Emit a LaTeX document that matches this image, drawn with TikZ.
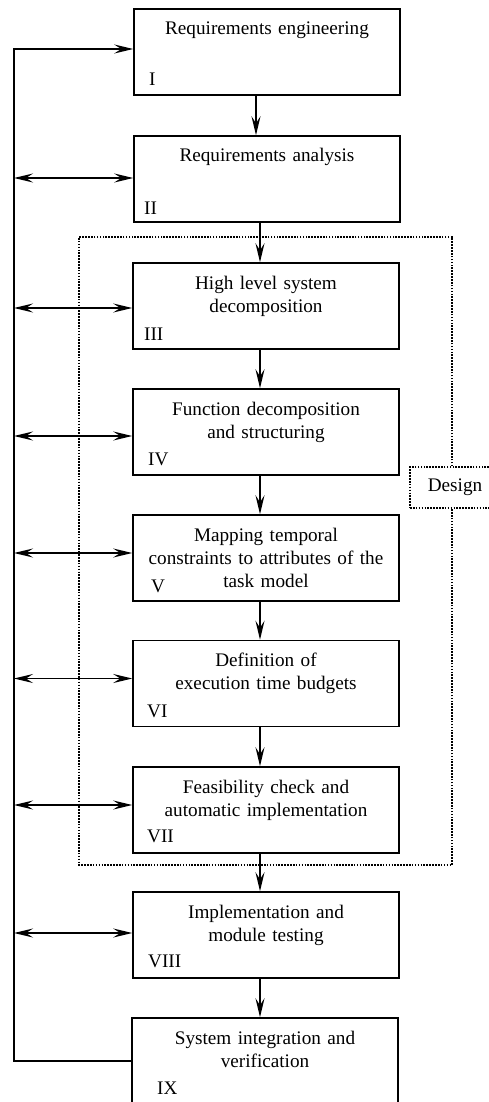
\documentclass[tikz,border=0pt]{standalone}
\usepackage{fontspec}
\setmainfont{Liberation Serif}
\usetikzlibrary{arrows.meta}
\begin{document}
\begin{tikzpicture}[x=1pt,y=-1pt,
  box/.style={draw, line width=1.5pt, minimum width=266pt, minimum height=86pt, inner sep=0pt},
  txt/.style={text width=266pt, align=center, anchor=base, inner sep=0pt, font=\fontsize{19.2pt}{23pt}\selectfont},
  num/.style={anchor=base west, inner sep=0pt, font=\fontsize{19.2pt}{23pt}\selectfont},
  tip/.tip={Stealth[length=19pt,width=9pt,inset=7pt]},
  arr/.style={line width=1.5pt, -tip},
  arrtwo/.style={line width=1.5pt, tip-tip},
  dotline/.style={line width=1.6pt, dash pattern=on 1.6pt off 1.3pt}]
\useasboundingbox (0,0) rectangle (489,1102);
\clip (0,0) rectangle (489,1102);

% boxes
\node[box] (b1) at (267,52) {};
\node[box] (b2) at (267,179) {};
\node[box] (b3) at (266,306) {};
\node[box] (b4) at (266,432) {};
\node[box] (b5) at (266,558) {};
\node[box] (b6) at (266,683.5) {};
\node[box] (b7) at (266,810) {};
\node[box] (b8) at (266,935) {};
\node[box] (b9) at (265,1061) {};

% texts
\node[txt] (t1) at (267,35) {Requirements engineering};
\node[txt] (t2) at (267,162) {Requirements analysis};
\node[txt] (t3) at (266,289) {High level system\\decomposition};
\node[txt] (t4) at (266,415) {Function decomposition\\and structuring};
\node[txt] (t5) at (266,541) {Mapping temporal\\constraints to attributes of the\\task model};
\node[txt] (t6) at (266,666) {Definition of\\execution time budgets};
\node[txt] (t7) at (266,793) {Feasibility check and\\automatic implementation};
\node[txt] (t8) at (266,918) {Implementation and\\module testing};
\node[txt] (t9) at (265,1044) {System integration and\\verification};

% roman numerals
\node[num] (n1) at (149,86) {I};
\node[num] (n2) at (144,214) {II};
\node[num] (n3) at (144,340) {III};
\node[num] (n4) at (148,465) {IV};
\node[num] (n5) at (151,592) {V};
\node[num] (n6) at (147,717) {VI};
\node[num] (n7) at (147,842) {VII};
\node[num] (n8) at (148,967) {VIII};
\node[num] (n9) at (157,1094) {IX};

% design frame
\coordinate (fTL) at (79,237);
\coordinate (fBR) at (452,865);
\node[dotline, draw, minimum width=90pt, minimum height=41pt, inner sep=0pt,
      font=\fontsize{19.2pt}{23pt}\selectfont] (design) at (455,487.5) {Design};
\draw[dotline] (design.north -| fBR) |- (fTL) |- (fBR) -- (design.south -| fBR);

% vertical flow arrows
\coordinate (axa) at (256,0);
\coordinate (ax) at (260,0);
\draw[arr] (b1.south -| axa) -- (b2.north -| axa);
\draw[arr] (b2.south -| ax) -- (b3.north -| ax);
\draw[arr] (b3.south -| ax) -- (b4.north -| ax);
\draw[arr] (b4.south -| ax) -- (b5.north -| ax);
\draw[arr] (b5.south -| ax) -- (b6.north -| ax);
\draw[arr] (b6.south -| ax) -- (b7.north -| ax);
\draw[arr] (b7.south -| ax) -- (b8.north -| ax);
\draw[arr] (b8.south -| ax) -- (b9.north -| ax);

% feedback bus
\coordinate (bus) at (14,0);
\coordinate (in1) at ([yshift=3pt]b1.west);
\draw[arr] (b9.west) -| (in1 -| bus) -- (in1);
\draw[arrtwo] ([yshift=1pt]b2.west -| bus) -- ([yshift=1pt]b2.west);
\draw[arrtwo] ([yshift=-2pt]b3.west -| bus) -- ([yshift=-2pt]b3.west);
\draw[arrtwo] ([yshift=-4pt]b4.west -| bus) -- ([yshift=-4pt]b4.west);
\draw[arrtwo] ([yshift=5pt]b5.west -| bus) -- ([yshift=5pt]b5.west);
\draw[arrtwo] ([yshift=5pt]b6.west -| bus) -- ([yshift=5pt]b6.west);
\draw[arrtwo] ([yshift=5pt]b7.west -| bus) -- ([yshift=5pt]b7.west);
\draw[arrtwo] ([yshift=2pt]b8.west -| bus) -- ([yshift=2pt]b8.west);
\end{tikzpicture}
\end{document}
